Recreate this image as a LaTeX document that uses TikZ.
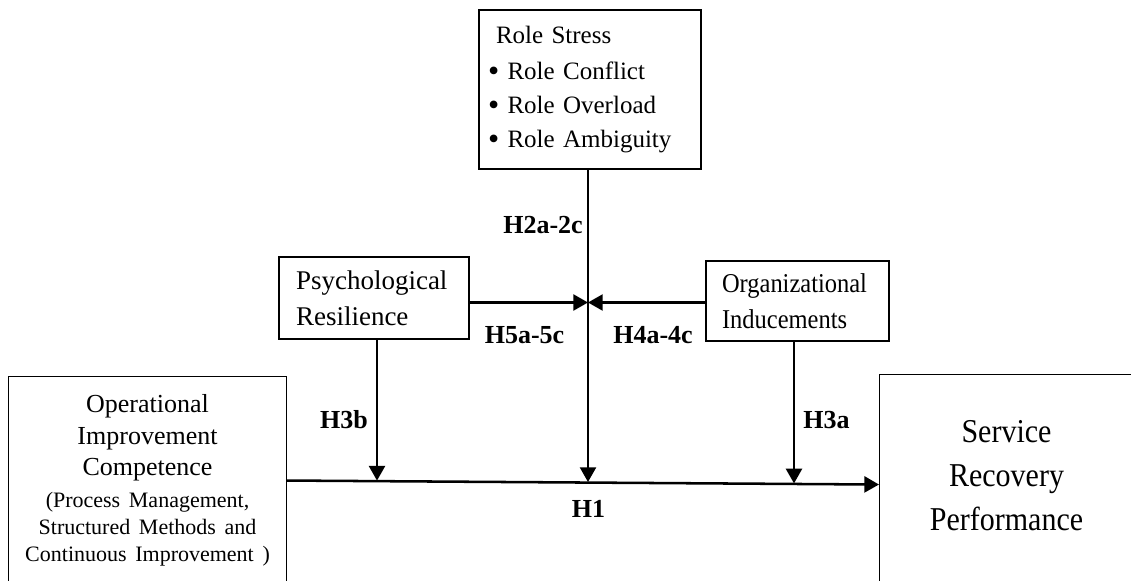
\documentclass[tikz,border=0pt]{standalone}
\usepackage{fontspec}
\setmainfont{Liberation Serif}
\newfontfamily\narrowserif[FakeStretch=0.9]{Liberation Serif}
\usetikzlibrary{arrows.meta}
\newcommand{\dotitem}{\raisebox{-1.6pt}{\fontsize{24}{0}\selectfont\textbullet}\ }

\begin{document}
\begin{tikzpicture}[x=0.75pt,y=-0.75pt,
		box/.style={draw,line width=0.8pt,inner sep=0pt},
		link/.style={line width=1.7pt,-{Triangle[length=11pt,width=12pt]}},
		hyp/.style={anchor=base,font=\fontsize{19.5}{23}\selectfont\bfseries}]
		\useasboundingbox (0,0) rectangle (1131,581);
		\node[box,minimum width=166.5pt,minimum height=119.25pt,text width=153pt,align=left,font=\fontsize{18.75}{25.5}\selectfont] (stress) at (590,89.5) {\hspace*{6pt}Role Stress\\[2pt]\dotitem Role Conflict\\\dotitem Role Overload\\\dotitem Role Ambiguity};
		\node[box,minimum width=142.5pt,minimum height=61.5pt,text width=117pt,align=left,font=\fontsize{20.25}{27}\selectfont] (psy) at (374,298) {Psychological\\Resilience};
		\node[box,minimum width=137.25pt,minimum height=60pt,text width=113.25pt,align=left,font=\narrowserif\fontsize{20.4}{27}\selectfont] (org) at (797.5,301) {Organizational\\Inducements};
		\node[box,anchor=north west,minimum width=208.5pt,minimum height=156pt,text width=200pt,align=center,font=\fontsize{19.5}{23.6}\selectfont] (oic) at (8,376) {Operational\\Improvement\\Competence\par
			\fontsize{16.5}{20.25}\selectfont\vspace{3.75pt}(Process Management,\\Structured Methods and\\Continuous Improvement )\par};
		\node[box,anchor=north west,minimum width=190.5pt,minimum height=159pt,text width=180pt,align=center,font=\narrowserif\fontsize{25}{33}\selectfont] (srp) at (879,374) {Service\\Recovery\\Performance\rule[-8pt]{0pt}{0pt}};
		% points where the arrows meet
		\coordinate (hub) at (588,302.5);
		\coordinate (tipb) at (377,480.6);
		\coordinate (tipc) at (588,482);
		\coordinate (tipa) at (794,483.4);
		\draw[link,line width=1.9pt] (oic.east) -- ([yshift=-3pt]srp.west);
		\draw[link] (stress.south -| tipc) -- (tipc);
		\draw[link] (psy.east |- hub) -- (hub);
		\draw[link] (org.west |- hub) -- (hub);
		\draw[link] (psy.south -| tipb) -- (tipb);
		\draw[link] (org.south -| tipa) -- (tipa);
		\node[hyp] (h2) at (543,233) {H2a-2c};
		\node[hyp] (h5) at (524.5,343) {H5a-5c};
		\node[hyp] (h4) at (653,343) {H4a-4c};
		\node[hyp] (h3b) at (344,428) {H3b};
		\node[hyp] (h3a) at (826.5,428) {H3a};
		\node[hyp] (h1) at (588.5,517) {H1};
\end{tikzpicture}
\end{document}
